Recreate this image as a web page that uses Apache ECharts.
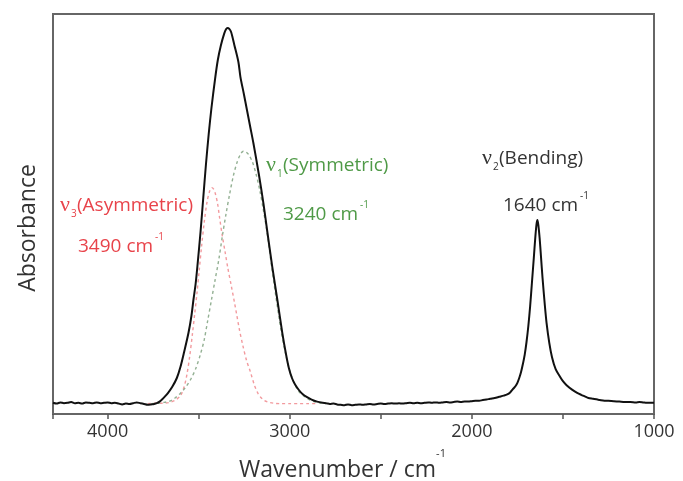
<!DOCTYPE html>
<html>
<head>
<meta charset="utf-8">
<script src="https://cdn.jsdelivr.net/npm/echarts@6/dist/echarts.min.js"></script>
<style>
  html, body { margin: 0; padding: 0; background: #fff; }
  #chart { width: 683px; height: 481px; }
</style>
</head>
<body>
<div id="chart"></div>
<script>
// measured IR spectrum of water, [wavenumber, absorbance]
const spectrum = [
  [4300, 0.028], [4280, 0.026], [4260, 0.029], [4240, 0.027], [4220, 0.028], [4200, 0.030],
  [4180, 0.027], [4160, 0.028], [4140, 0.026], [4120, 0.029], [4100, 0.028], [4080, 0.027],
  [4060, 0.029], [4040, 0.027], [4020, 0.028], [4000, 0.029], [3980, 0.027], [3960, 0.028],
  [3940, 0.026], [3920, 0.024], [3900, 0.026], [3880, 0.025], [3860, 0.027], [3840, 0.029],
  [3820, 0.027], [3800, 0.025], [3780, 0.023], [3760, 0.024], [3745, 0.025], [3730, 0.027],
  [3715, 0.031], [3700, 0.037], [3685, 0.044], [3668, 0.053], [3645, 0.068], [3620, 0.090],
  [3600, 0.118], [3580, 0.155], [3556, 0.203], [3540, 0.245], [3529, 0.285], [3517, 0.325],
  [3507, 0.370], [3490, 0.455], [3475, 0.540], [3460, 0.625], [3445, 0.700], [3430, 0.765],
  [3410, 0.838], [3395, 0.885], [3378, 0.922], [3360, 0.951], [3350, 0.962], [3342, 0.965],
  [3332, 0.963], [3322, 0.955], [3304, 0.922], [3282, 0.880], [3271, 0.843], [3252, 0.800],
  [3235, 0.760], [3218, 0.720], [3200, 0.678], [3170, 0.600], [3145, 0.528], [3123, 0.455],
  [3096, 0.368], [3068, 0.285], [3041, 0.203], [3020, 0.148], [3005, 0.115], [2988, 0.090],
  [2970, 0.073], [2950, 0.060], [2930, 0.050], [2905, 0.042], [2880, 0.036], [2850, 0.031],
  [2820, 0.028], [2800, 0.027], [2780, 0.025], [2760, 0.026], [2740, 0.024], [2720, 0.023],
  [2700, 0.022], [2680, 0.024], [2660, 0.022], [2640, 0.023], [2620, 0.024], [2600, 0.023],
  [2580, 0.024], [2560, 0.025], [2540, 0.024], [2520, 0.025], [2500, 0.026], [2480, 0.025],
  [2460, 0.026], [2440, 0.027], [2420, 0.026], [2400, 0.027], [2380, 0.026], [2360, 0.027],
  [2340, 0.028], [2320, 0.027], [2300, 0.028], [2280, 0.027], [2260, 0.028], [2240, 0.029],
  [2220, 0.028], [2200, 0.029], [2180, 0.028], [2160, 0.029], [2140, 0.030], [2120, 0.029],
  [2100, 0.030], [2080, 0.031], [2060, 0.030], [2040, 0.031], [2020, 0.031], [2000, 0.032],
  [1980, 0.033], [1960, 0.033], [1940, 0.035], [1920, 0.036], [1900, 0.038], [1875, 0.040],
  [1850, 0.043], [1825, 0.046], [1806, 0.049], [1790, 0.054], [1775, 0.062], [1760, 0.070],
  [1750, 0.078], [1740, 0.090], [1730, 0.105], [1720, 0.125], [1710, 0.148], [1700, 0.180],
  [1690, 0.220], [1680, 0.270], [1670, 0.330], [1660, 0.390], [1652, 0.440], [1645, 0.475],
  [1640, 0.485], [1635, 0.472], [1628, 0.440], [1620, 0.390], [1612, 0.340], [1600, 0.275],
  [1590, 0.228], [1575, 0.178], [1560, 0.142], [1540, 0.112], [1516, 0.093], [1500, 0.082],
  [1480, 0.072], [1450, 0.061], [1422, 0.053], [1400, 0.048], [1380, 0.044], [1360, 0.040],
  [1335, 0.038], [1310, 0.036], [1280, 0.034], [1250, 0.033], [1220, 0.032], [1190, 0.031],
  [1160, 0.030], [1130, 0.030], [1100, 0.029], [1080, 0.030], [1060, 0.029], [1040, 0.028],
  [1020, 0.028], [1000, 0.028]
];

// fitted component v3 (asymmetric stretch)
const asymFit = [
  [3780, 0.026], [3740, 0.027], [3700, 0.027], [3660, 0.029], [3630, 0.034], [3600, 0.046],
  [3580, 0.068], [3565, 0.098], [3550, 0.142], [3535, 0.198], [3522, 0.250], [3510, 0.300],
  [3497, 0.360], [3484, 0.420], [3470, 0.478], [3455, 0.528], [3440, 0.557], [3428, 0.566],
  [3418, 0.562], [3408, 0.550], [3396, 0.525], [3385, 0.490], [3372, 0.450], [3355, 0.405],
  [3340, 0.365], [3320, 0.318], [3304, 0.280], [3290, 0.245], [3276, 0.210], [3258, 0.172],
  [3238, 0.135], [3216, 0.105], [3194, 0.072], [3175, 0.052], [3160, 0.042], [3140, 0.034],
  [3120, 0.030], [3090, 0.027], [3050, 0.026], [3000, 0.026], [2950, 0.026], [2900, 0.026],
  [2860, 0.026]
];

// fitted component v1 (symmetric stretch)
const symFit = [
  [3760, 0.026], [3720, 0.027], [3690, 0.029], [3660, 0.032], [3630, 0.040], [3600, 0.052],
  [3570, 0.068], [3540, 0.090], [3515, 0.115], [3490, 0.150], [3470, 0.185], [3450, 0.235],
  [3430, 0.285], [3410, 0.335], [3390, 0.385], [3370, 0.445], [3350, 0.500], [3330, 0.550],
  [3310, 0.595], [3290, 0.628], [3270, 0.650], [3255, 0.657], [3240, 0.655], [3225, 0.648],
  [3205, 0.630], [3185, 0.600], [3165, 0.560], [3145, 0.510], [3125, 0.455], [3100, 0.370],
  [3075, 0.290], [3050, 0.215], [3025, 0.155], [3000, 0.108], [2975, 0.077], [2950, 0.056],
  [2920, 0.044], [2890, 0.035], [2860, 0.030], [2830, 0.027], [2800, 0.026]
];

const xLabels = [1000, 2000, 3000, 4000];
const modeIndex = ['3', '1', '2'];
const modeNames = ['(Asymmetric)', '(Symmetric)', '(Bending)'];
const modePositions = ['3490 cm', '3240 cm', '1640 cm'];

const RED = '#e8434a';
const GREEN = '#4f9a47';
const DARK = '#333';
const FONT = '"Open Sans", sans-serif';

function txt(x, y, s, size, color, family) {
  return {
    type: 'text',
    x: x,
    y: y,
    silent: true,
    style: {
      text: s,
      fill: color,
      font: size + 'px ' + (family || FONT),
      align: 'left',
      verticalAlign: 'middle'
    }
  };
}

// peak annotation: nu + subscript + name, then position + superscript -1
function peakLabel(i, x1, y1, x2, y2, color) {
  return [
    txt(x1, y1, 'ν', 22, color, '"Liberation Serif", serif'),
    txt(x1 + 11, y1 + 9, modeIndex[i], 10, color),
    txt(x1 + 17, y1 + 1, modeNames[i], 19, color),
    txt(x2, y2, modePositions[i], 19, color),
    txt(x2 + 77, y2 - 10, '-1', 10, color)
  ];
}

const chart = echarts.init(document.getElementById('chart'));

chart.setOption({
  animation: false,
  backgroundColor: '#fff',
  grid: {
    left: 53,
    right: 29,
    top: 14,
    bottom: 67,
    outerBoundsMode: 'none',
    show: true,
    borderColor: '#666',
    borderWidth: 2
  },
  xAxis: {
    type: 'value',
    inverse: true,
    min: 1000,
    max: 4300,
    interval: 500,
    name: '{m|Wavenumber / cm}{s|-1}',
    nameLocation: 'middle',
    nameGap: 34,
    nameTextStyle: {
      padding: [0, 22, 0, 0],
      rich: {
        m: { fontSize: 23, fontFamily: FONT, color: DARK, lineHeight: 34, verticalAlign: 'bottom' },
        s: { fontSize: 11, fontFamily: FONT, color: DARK, lineHeight: 34, verticalAlign: 'top' }
      }
    },
    axisLine: { show: false },
    axisTick: { show: true, length: 5, lineStyle: { color: '#555', width: 1.5 } },
    axisLabel: {
      margin: 9,
      fontSize: 18,
      fontFamily: FONT,
      color: DARK,
      formatter: function (v) { return xLabels.indexOf(v) >= 0 ? String(v) : ''; }
    },
    splitLine: { show: false }
  },
  yAxis: {
    type: 'value',
    min: 0,
    max: 1,
    name: 'Absorbance',
    nameLocation: 'middle',
    nameGap: 13,
    nameTextStyle: {
      fontSize: 23,
      fontFamily: FONT,
      color: DARK,
      padding: [0, 28, 0, 0]
    },
    axisLine: { show: false },
    axisTick: { show: false },
    axisLabel: { show: false },
    splitLine: { show: false }
  },
  series: [
    {
      name: 'v3',
      type: 'line',
      data: asymFit,
      showSymbol: false,
      smooth: 0.3,
      lineStyle: { color: '#f29a9e', width: 1.4, type: [3, 3] }
    },
    {
      name: 'v1',
      type: 'line',
      data: symFit,
      showSymbol: false,
      smooth: 0.3,
      lineStyle: { color: '#93b093', width: 1.4, type: [3, 3] }
    },
    {
      name: 'spectrum',
      type: 'line',
      data: spectrum,
      showSymbol: false,
      smooth: 0.3,
      lineStyle: { color: '#111', width: 2 }
    }
  ],
  graphic: [].concat(
    peakLabel(0, 60, 205, 78, 247, RED),
    peakLabel(1, 266, 165, 283, 215, GREEN),
    peakLabel(2, 482, 158, 503, 206, DARK)
  )
});
</script>
</body>
</html>
